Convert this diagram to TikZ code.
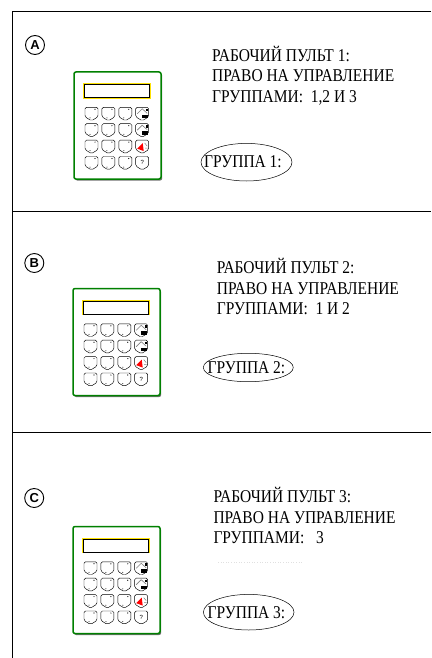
\documentclass[tikz,border=0pt]{standalone}
\usepackage{fontspec}
\setmainfont{Liberation Serif}
\newfontfamily\condserif[FakeStretch=0.86]{Liberation Serif}
\newfontfamily\keyfont{Liberation Sans}
\usetikzlibrary{shapes.geometric}

\begin{document}
\begin{tikzpicture}[x=1pt, y=-1pt,
  frame/.style={line width=0.8pt},
  tag/.style={draw, circle, minimum size=19pt, inner sep=0pt, line width=0.9pt,
    font=\keyfont\bfseries\fontsize{13}{13}\selectfont},
  info/.style={anchor=base west, align=left, inner sep=0pt,
    font=\condserif\fontsize{18}{20.3}\selectfont},
  grp/.style={draw, ellipse, inner sep=0pt, line width=0.5pt},
  grptext/.style={anchor=base west, inner sep=0pt,
    font=\condserif\fontsize{18}{20}\selectfont},
  keycap/.style={line width=0.45pt, rounded corners=1.5pt},
  console/.pic={
    % body with shadow
    \fill[black!55, rounded corners=2pt] (1.2,1.5) rectangle (88.2,108.5);
    \draw[green!50!black, line width=1.5pt, fill=white, rounded corners=2pt] (0,0) rectangle (87,107);
    % display
    \draw[yellow!85!orange, line width=1.3pt] (10,12) rectangle (76,26);
    \draw[line width=0.5pt] (10.6,12.6) rectangle (75.4,25.4);
    % keypad
    \foreach \col in {0,...,3}
      \foreach \row in {0,...,3}
        \draw[keycap, shift={(11+16.9*\col,35.3+16.4*\row)}]
          (0,9.5) -- (0,0) -- (13,0) -- (13,9.5) -- (6.5,13.5) -- cycle;
    \foreach \col in {0,...,2}
      \foreach \row in {0,...,3} {
        \fill[shift={(11+16.9*\col,35.3+16.4*\row)}] (10,2) circle (0.6);
        \fill[shift={(11+16.9*\col,35.3+16.4*\row)}] (5,10.6) circle (0.5);
      }
    % function keys
    \foreach \row in {0,1} {
      \draw[black!50, line width=0.6pt, shift={(61.7,35.3+16.4*\row)}] (1.5,6.5) -- (6.5,1.5) -- (11.5,6);
      \fill[shift={(61.7,35.3+16.4*\row)}] (6,7.5) rectangle (12.5,11);
      \fill[shift={(61.7,35.3+16.4*\row)}] (10.5,1.5) rectangle (12,4);
    }
    \fill[red, shift={(61.7,68.1)}] (1.5,8.5) -- (7,3) -- (8,11) -- cycle;
    \draw[black!50, line width=0.5pt, shift={(61.7,68.1)}] (9,3) -- (11.5,6) (9.5,8) -- (12,8);
    \node[font=\keyfont\fontsize{6}{6}\selectfont, inner sep=0pt] (q) at (68.2,90.8) {?};
  }
]
\useasboundingbox (0,0) rectangle (431,658);

% frame
\draw[frame] (431,11) -- (12.3,11) -- (12.3,658);
\draw[frame] (12.3,211.5) -- (431,211.5);
\draw[frame] (12.3,432.5) -- (431,432.5);

% console 1 (text placed by its last baseline)
\node[tag] (tagA) at (35,45) {A};
\pic at (74,72) {console};
\node[info] (infoA) at (212,102.3) {РАБОЧИЙ ПУЛЬТ 1:\\ПРАВО НА УПРАВЛЕНИЕ\\ГРУППАМИ:\ \ 1,2 И 3};
\node[grp, minimum width=91pt, minimum height=37.6pt] (grpA) at (246.5,162.2) {};
\node[grptext] (grpAtext) at (204,167.5) {ГРУППА 1:};

% console 2
\node[tag] (tagB) at (34.3,263) {B};
\pic at (73,288.5) {console};
\node[info] (infoB) at (216.7,314.3) {РАБОЧИЙ ПУЛЬТ 2:\\ПРАВО НА УПРАВЛЕНИЕ\\ГРУППАМИ:\ \ 1 И 2};
\node[grp, minimum width=90pt, minimum height=28.4pt] (grpB) at (248.3,367.5) {};
\node[grptext] (grpBtext) at (207.5,373) {ГРУППА 2:};

% console 3
\node[tag] (tagC) at (34.2,498) {C};
\pic at (73,526.5) {console};
\node[info] (infoC) at (213.3,543.5) {РАБОЧИЙ ПУЛЬТ 3:\\ПРАВО НА УПРАВЛЕНИЕ\\ГРУППАМИ:\ \ \ 3};
\draw[black!12, dotted, line width=0.6pt] (218,562) -- (302,562);
\node[grp, minimum width=90.6pt, minimum height=35.6pt] (grpC) at (248.7,612.2) {};
\node[grptext] (grpCtext) at (207.5,618) {ГРУППА 3:};
\end{tikzpicture}
\end{document}
